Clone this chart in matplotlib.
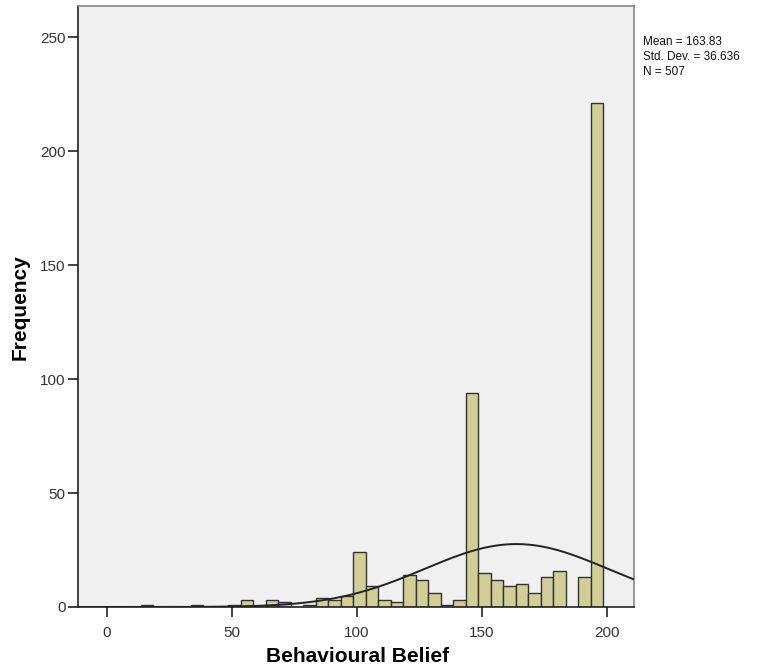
import numpy as np
import matplotlib
matplotlib.use('Agg')
import matplotlib.pyplot as plt

plt.rcParams['font.family'] = ['Liberation Sans', 'DejaVu Sans']

# histogram bins (centre of each 5-wide bin) and counts
bin_centers = [16, 36, 51, 56, 61, 66, 71, 76, 81, 86, 91, 96, 101, 106, 111, 116,
               121, 126, 131, 136, 141, 146, 151, 156, 161, 166, 171, 176, 181, 186,
               191, 196]
counts = [1, 1, 1, 3, 0, 3, 2, 0, 1, 4, 3, 5, 24, 9, 3, 2,
          14, 12, 6, 1, 3, 94, 15, 12, 9, 10, 6, 13, 16, 0,
          13, 221]
bin_width = 5

mean = 163.83
std = 36.636
n = 507
stat_lines = ['Mean = 163.83', 'Std. Dev. = 36.636', 'N = 507']

fig = plt.figure(figsize=(7.71, 6.72), dpi=100)
ax = fig.add_axes([78 / 771, 1 - 607 / 672, (634 - 78) / 771, (607 - 6) / 672])
ax.set_facecolor('#f0f0f0')

centers = np.array(bin_centers)
vals = np.array(counts)
keep = vals > 0
ax.bar(centers[keep], vals[keep], width=bin_width, color='#d3ce98',
       edgecolor='#333333', linewidth=1.0, zorder=2)

# normal curve from the reported statistics
xlim = (-11.5, 210.9)
xs = np.linspace(xlim[0], xlim[1], 400)
ys = n * bin_width / (std * np.sqrt(2 * np.pi)) * np.exp(-0.5 * ((xs - mean) / std) ** 2)
ax.plot(xs, ys, color='#222222', linewidth=1.4, zorder=3)

ax.set_xlim(*xlim)
ax.set_ylim(0, 263.6)
ax.set_xticks([0, 50, 100, 150, 200])
ax.set_yticks([0, 50, 100, 150, 200, 250])
ax.tick_params(axis='both', direction='out', length=7, width=1.2, color='#222222',
               labelsize=11, labelcolor='#333333')
ax.tick_params(axis='x', pad=7)
ax.tick_params(axis='y', pad=2)

for side in ['left', 'bottom']:
    ax.spines[side].set_color('#222222')
    ax.spines[side].set_linewidth(1.2)
for side in ['top', 'right']:
    ax.spines[side].set_color('#888888')
    ax.spines[side].set_linewidth(1.2)

ax.set_xlabel('Behavioural Belief', fontsize=15, fontweight='bold', va='center')
ax.set_ylabel('Frequency', fontsize=15, fontweight='bold', va='center')
ax.xaxis.set_label_coords((358 - 78) / 556, (607 - 657) / 601)
ax.yaxis.set_label_coords((20 - 78) / 556, (607 - 307) / 601)

for i, line in enumerate(stat_lines):
    fig.text(643 / 771, 1 - (42 + 15 * i) / 672, line, fontsize=8.5,
             va='center', ha='left', color='#111111')

fig.savefig('out.png', dpi=100)
